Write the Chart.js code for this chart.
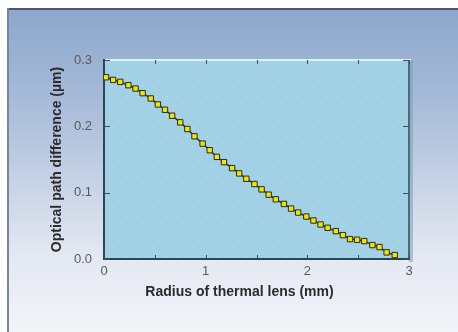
<!DOCTYPE html>
<html>
<head>
<meta charset="utf-8">
<script src="https://cdn.jsdelivr.net/npm/chart.js@4"></script>
<style>
  html, body { margin: 0; padding: 0; background: #fff; }
  canvas { display: block; }
</style>
</head>
<body>
<canvas id="lens" width="458" height="332"></canvas>
<script>
// radius (mm) and optical path difference (um)
const radius = [0.02, 0.09, 0.16, 0.24, 0.31, 0.38, 0.46, 0.53, 0.60, 0.67,
                0.75, 0.82, 0.89, 0.97, 1.04, 1.11, 1.18, 1.26, 1.33, 1.40,
                1.48, 1.55, 1.62, 1.69, 1.77, 1.84, 1.91, 1.99, 2.06, 2.13,
                2.20, 2.28, 2.35, 2.42, 2.49, 2.56, 2.64, 2.71, 2.78, 2.86];
const opd = [0.274, 0.270, 0.267, 0.262, 0.257, 0.250, 0.242, 0.233, 0.225, 0.216,
             0.206, 0.196, 0.185, 0.174, 0.164, 0.154, 0.146, 0.137, 0.129, 0.121,
             0.113, 0.105, 0.097, 0.090, 0.083, 0.076, 0.070, 0.064, 0.058, 0.052,
             0.047, 0.042, 0.036, 0.030, 0.029, 0.027, 0.021, 0.018, 0.010, 0.006];
const xTickMarks = [0, 0.5, 1, 1.5, 2, 2.5, 3];
const yTickMarks = [0, 0.1, 0.2, 0.3];
const xTitle = 'Radius of thermal lens (mm)';
const yTitle = 'Optical path difference (\u00b5m)';

const points = radius.map((r, i) => ({ x: r, y: opd[i] }));

// background panel + plot area fill
const panel = {
    id: 'panel',
    beforeDraw(chart) {
        const { ctx, width, height, chartArea: a } = chart;
        ctx.save();
        ctx.fillStyle = '#ffffff';
        ctx.fillRect(0, 0, width, height);
        const g = ctx.createLinearGradient(0, 8, 0, height);
        g.addColorStop(0, '#8ba6cc');
        g.addColorStop(0.35, '#aec0dc');
        g.addColorStop(0.75, '#e2e7f1');
        g.addColorStop(1, '#f3f4f8');
        ctx.fillStyle = g;
        ctx.fillRect(7, 8, width - 7, height - 8);
        ctx.fillStyle = '#4e5868';
        ctx.fillRect(7, 8, width - 7, 2);
        ctx.fillStyle = '#7586a0';
        ctx.fillRect(7, 8, 2, height - 8);

        // shadow right of the plot
        ctx.fillStyle = 'rgba(120,160,180,0.55)';
        ctx.fillRect(a.right, a.top, 4, a.bottom - a.top + 3);
        ctx.fillStyle = '#a2d0e5';
        ctx.fillRect(a.left, a.top, a.right - a.left, a.bottom - a.top);
        // faint dot texture
        ctx.fillStyle = 'rgba(225,245,252,0.55)';
        for (let y = a.top + 6; y < a.bottom - 2; y += 10) {
            for (let x = a.left + 5 + ((y / 10) % 2) * 5; x < a.right - 2; x += 10) {
                ctx.fillRect(x, y, 1, 1);
            }
        }
        // light top edge, dark right edge
        ctx.fillStyle = '#dff0f6';
        ctx.fillRect(a.left, a.top - 1, a.right - a.left + 2, 2);
        ctx.fillStyle = '#4b6b7a';
        ctx.fillRect(a.right - 1, a.top, 2, a.bottom - a.top);
        ctx.restore();
    },
    afterDraw(chart) {
        const { ctx, chartArea: a, scales } = chart;
        ctx.save();
        ctx.strokeStyle = '#3a4f5a';
        ctx.lineWidth = 1;
        ctx.beginPath();
        xTickMarks.forEach(v => {
            const x = Math.round(scales.x.getPixelForValue(v)) + 0.5;
            ctx.moveTo(x, a.bottom); ctx.lineTo(x, a.bottom - 4);
            ctx.moveTo(x, a.top); ctx.lineTo(x, a.top + 4);
        });
        yTickMarks.forEach(v => {
            const y = Math.round(scales.y.getPixelForValue(v)) + 0.5;
            ctx.moveTo(a.left, y); ctx.lineTo(a.left + 6, y);
            ctx.moveTo(a.right, y); ctx.lineTo(a.right - 6, y);
        });
        ctx.stroke();

        ctx.fillStyle = '#2b2b2b';
        ctx.font = 'bold 14px "Liberation Sans", Arial, sans-serif';
        ctx.textAlign = 'center';
        ctx.textBaseline = 'middle';
        ctx.fillText(xTitle, 239.5, 292);
        ctx.restore();
    }
};

new Chart(document.getElementById('lens').getContext('2d'), {
    type: 'line',
    data: {
        datasets: [{
            data: points,
            borderColor: '#26343a',
            borderWidth: 1.5,
            backgroundColor: '#f2e600',
            pointStyle: 'rect',
            pointRadius: 3.8,
            pointBorderColor: '#2a2a1a',
            pointBorderWidth: 1,
            tension: 0
        }]
    },
    options: {
        responsive: false,
        animation: false,
        layout: { padding: { top: 60, right: 49, bottom: 33, left: 49 } },
        plugins: { legend: { display: false }, tooltip: { enabled: false } },
        scales: {
            x: {
                type: 'linear',
                min: 0,
                max: 3,
                afterFit(scale) { scale.height = 40; },
                grid: { display: false, tickLength: 0 },
                border: { display: true, color: '#2c4550', width: 2 },
                ticks: {
                    stepSize: 1,
                    padding: 5,
                    color: '#5a5a5a',
                    font: { family: '"Liberation Sans", Arial, sans-serif', size: 13 }
                }
            },
            y: {
                min: 0,
                max: 0.3,
                afterFit(scale) { scale.width = 55; },
                grid: { display: false, tickLength: 0 },
                border: { display: true, color: '#2c4550', width: 2 },
                ticks: {
                    stepSize: 0.1,
                    padding: 12,
                    color: '#5a5a5a',
                    font: { family: '"Liberation Sans", Arial, sans-serif', size: 13 },
                    callback: v => v.toFixed(1)
                },
                title: {
                    display: true,
                    text: yTitle,
                    color: '#2b2b2b',
                    padding: 0,
                    font: { family: '"Liberation Sans", Arial, sans-serif', size: 14, weight: 'bold' }
                }
            }
        }
    },
    plugins: [panel]
});
</script>
</body>
</html>
